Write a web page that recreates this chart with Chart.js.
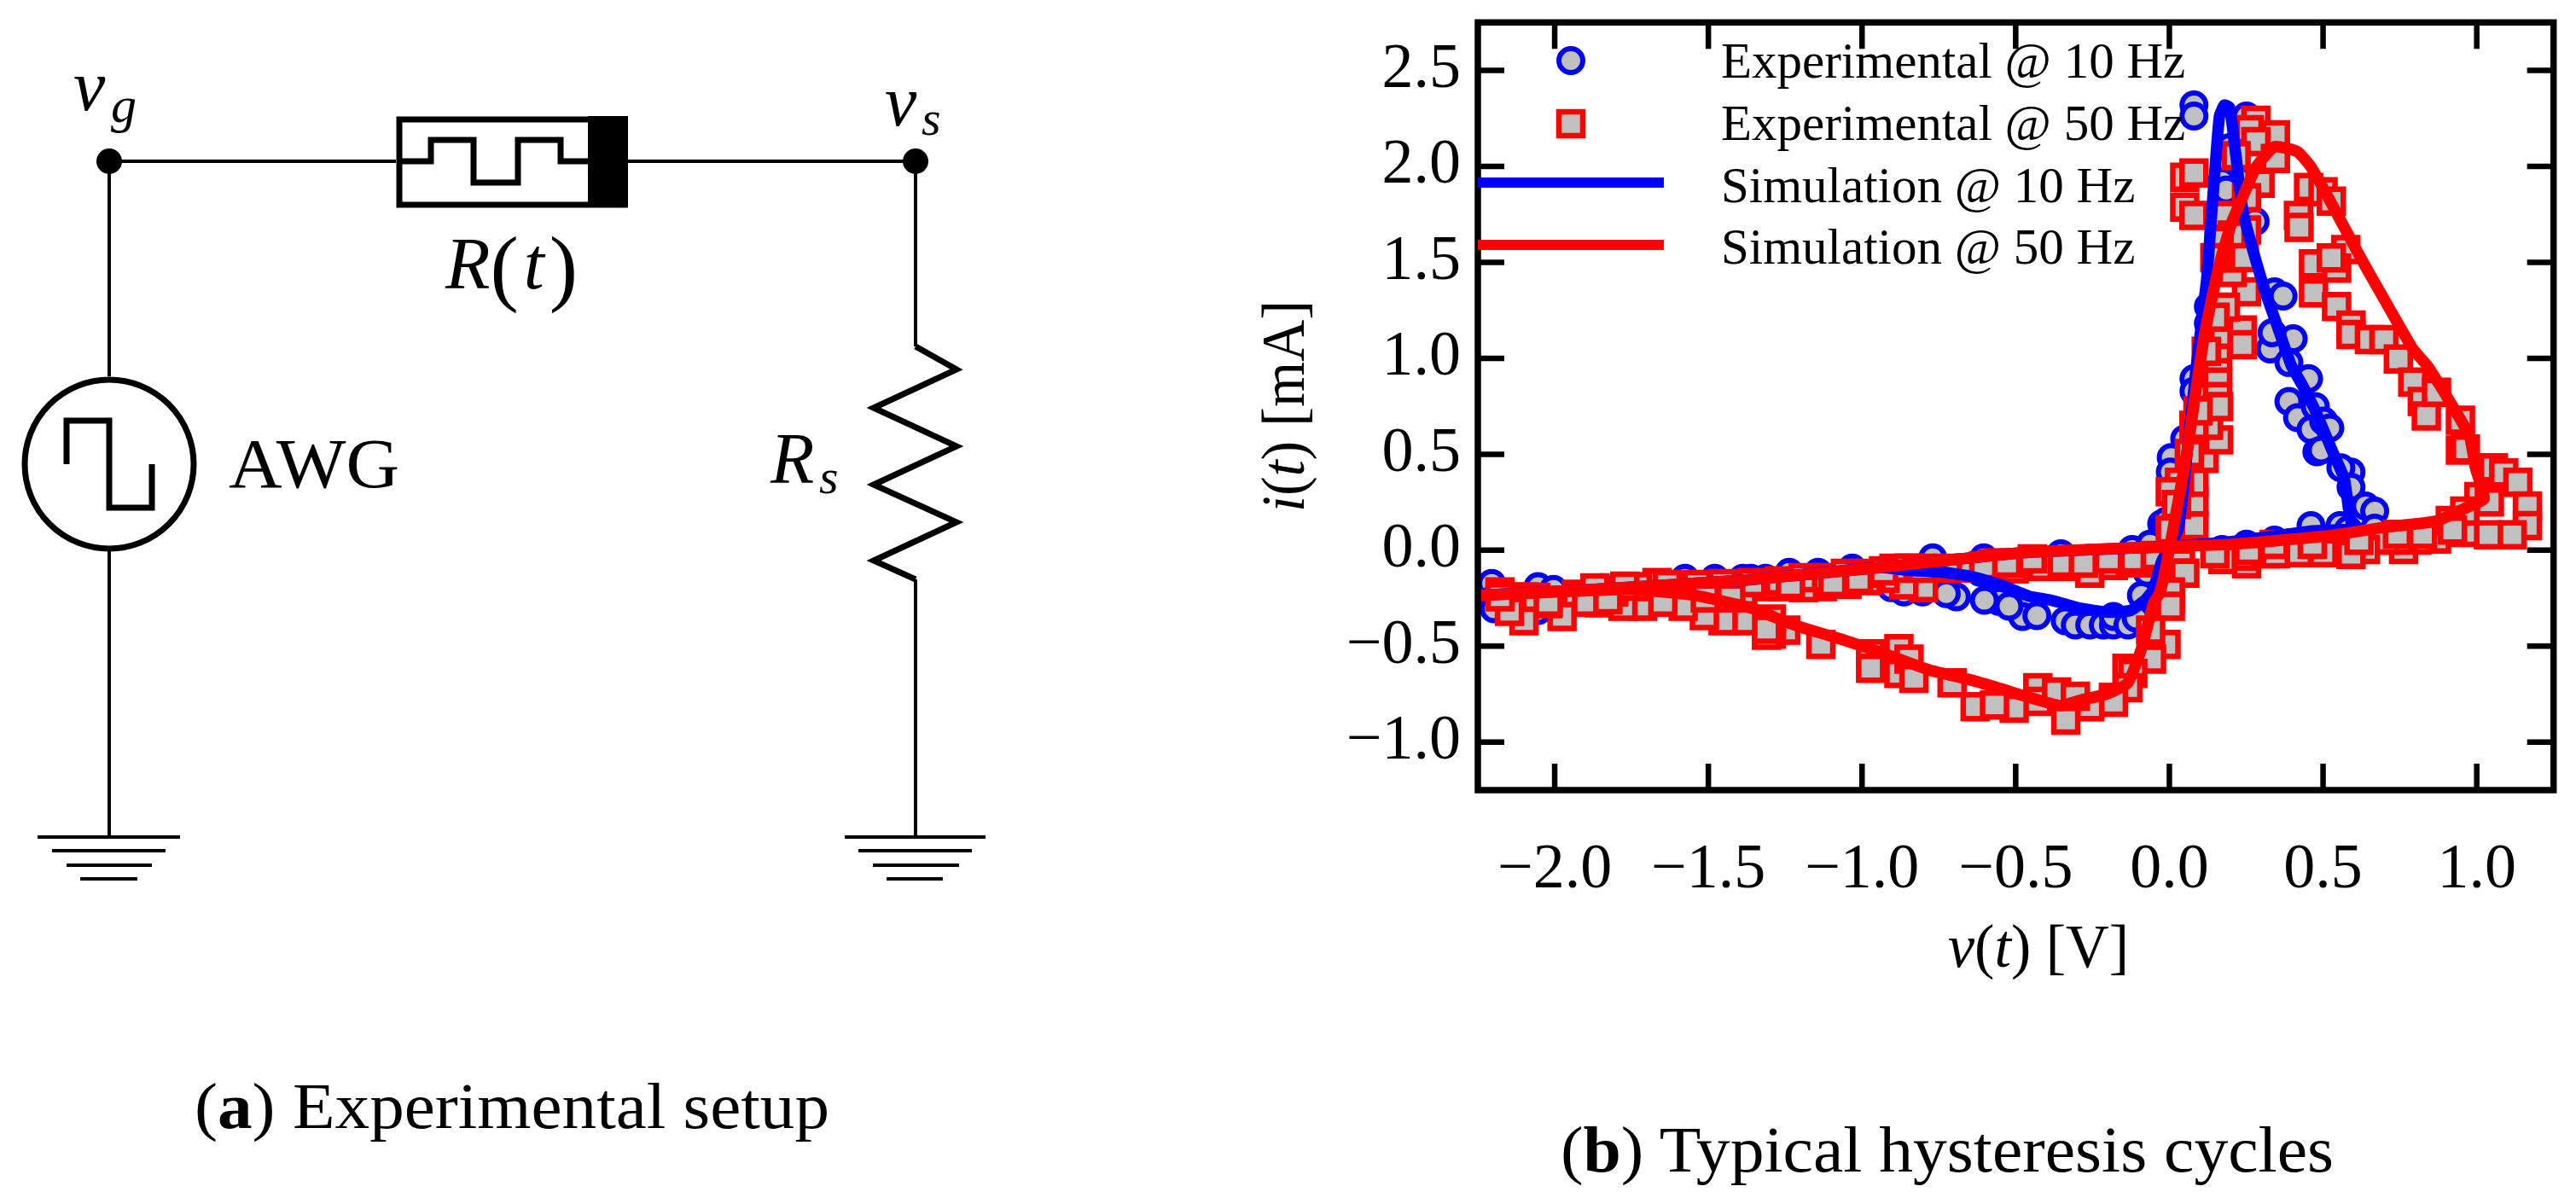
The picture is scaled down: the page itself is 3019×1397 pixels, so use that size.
<!DOCTYPE html>
<html>
<head>
<meta charset="utf-8">
<title>Experimental setup and hysteresis cycles</title>
<script src="https://cdn.jsdelivr.net/npm/chart.js@4"></script>
<style>
  html, body { margin: 0; padding: 0; background: #fff; }
  #wrap { position: relative; width: 3019px; height: 1397px; overflow: hidden; }
  #wrap canvas, #wrap svg { position: absolute; left: 0; top: 0; }
  svg text { font-family: "Liberation Serif", serif; fill: #000; }
  .wire { fill: none; stroke: #000; stroke-width: 4; }
  .thick { fill: none; stroke: #000; stroke-width: 7; }
</style>
</head>
<body>
<div id="wrap">
  <canvas id="chart" width="3019" height="1397"></canvas>
  <svg width="3019" height="1397" viewBox="0 0 3019 1397">
    <!-- wires -->
    <path class="wire" d="M128 189H464M736 189H1073M128 189V441M128 646V981M1073 189V406M1073 679V981"/>
    <circle cx="128" cy="189" r="15"/>
    <circle cx="1073" cy="189" r="15"/>
    <!-- memristor -->
    <rect class="thick" x="468" y="140" width="264" height="100"/>
    <rect x="689" y="136" width="47" height="107"/>
    <path class="thick" d="M467 189H505V164H555V214H607V164H657V189H689"/>
    <!-- source -->
    <circle class="thick" cx="128" cy="544" r="99"/>
    <path class="thick" d="M78 544V493H128V595H178V544"/>
    <!-- series resistor -->
    <path class="thick" stroke-linejoin="miter" d="M1073 406L1121 433L1024 478L1121 523L1024 568L1121 612L1024 657L1073 679"/>
    <!-- grounds -->
    <path class="wire" d="M44 981H211M61 997H194M78 1014H178M94 1030H161M990 981H1155M1006 997H1139M1023 1014H1124M1039 1030H1105"/>
    <!-- circuit labels -->
    <text x="86" y="129" font-size="84" font-style="italic">v</text>
    <text x="130" y="143" font-size="60" font-style="italic">g</text>
    <text x="1037" y="147" font-size="84" font-style="italic">v</text>
    <text x="1080" y="158" font-size="58" font-style="italic">s</text>
    <text x="522" y="338" font-size="86"><tspan font-style="italic">R</tspan><tspan font-size="100" dy="8">(</tspan><tspan font-style="italic" dx="6" dy="-8">t</tspan><tspan font-size="100" dx="6" dy="8">)</tspan></text>
    <text x="268" y="571" font-size="82" textLength="200" lengthAdjust="spacingAndGlyphs">AWG</text>
    <text x="903" y="566" font-size="84" font-style="italic">R</text>
    <text x="960" y="578" font-size="58" font-style="italic">s</text>
    <!-- axis titles -->
    <text x="2283" y="1133" font-size="72" textLength="212" lengthAdjust="spacingAndGlyphs"><tspan font-style="italic">v</tspan>(<tspan font-style="italic">t</tspan>) [V]</text>
    <text transform="translate(1528 600) rotate(-90)" font-size="72" textLength="248" lengthAdjust="spacingAndGlyphs"><tspan font-style="italic">i</tspan>(<tspan font-style="italic">t</tspan>) [mA]</text>
    <!-- captions -->
    <text x="228" y="1322" font-size="76" textLength="744" lengthAdjust="spacingAndGlyphs">(<tspan font-weight="bold">a</tspan>) Experimental setup</text>
    <text x="1829" y="1373" font-size="76" textLength="906" lengthAdjust="spacingAndGlyphs">(<tspan font-weight="bold">b</tspan>) Typical hysteresis cycles</text>
  </svg>
</div>
<script>
// tick labels
const xTicks = [-2.0, -1.5, -1.0, -0.5, 0.0, 0.5, 1.0];
const yTicks = [-1.0, -0.5, 0.0, 0.5, 1.0, 1.5, 2.0, 2.5];

const legendLabels = ["Experimental @ 10 Hz", "Experimental @ 50 Hz", "Simulation @ 10 Hz", "Simulation @ 50 Hz"];

// measured points, 10 Hz
const expV10 = [-.555,-.478,-.478,-.431,-.339,-.306,-.259,-.215,-.182,-.182,-.135,-.091,-.108,-.072,-.121,-.044,-.025,-.353,-.259,
  .080,.080,.050,.006,.003,-.011,-.063,.453,.389,.417,.461,.480,.328,.403,.334,.389,.171,.251,.342,.461,.475,.502,.522,.494,.591,.558,.591,.638,.668,.668,.555,.582,
  .080,.080,.251,.196,.224,.279,.342,.370,.171,.185,.127,.127,
  -1.237,-1.143,-1.032,-.770,-.604,-.693,-.726,-.803,-.864,-.905,-.602,-.522,-.616,
  -2.205,-2.205,-2.054,-2.054,-1.847,-1.576,-1.479,-1.388,-1.361,-1.314,-2.004,-2.197];
const expI10 = [-.266,-.292,-.345,-.341,-.367,-.390,-.390,-.390,-.390,-.345,-.390,-.235,-.354,-.115,.004,.018,.137,-.018,-.044,
  .894,.828,.580,.483,.407,.151,.031,.894,.775,.691,.629,.513,1.049,1.102,1.133,.978,.004,.031,.053,.128,.748,.673,.637,.522,.407,.429,.328,.230,.204,.115,.128,.106,
  2.320,2.262,2.262,2.098,1.934,1.713,1.346,1.324,1.921,1.877,1.270,1.182,
  -.115,-.115,-.093,-.040,-.040,-.243,-.226,-.217,-.217,-.195,-.261,-.292,-.115,
  -.173,-.261,-.190,-.314,-.195,-.146,-.146,-.146,-.146,-.146,-.204,-.305];

// measured points, 50 Hz
const expV50 = [.2815,.2595,.345,.2815,.345,.295,.05,.08,.05,.08,.453,.42,.5,.527,.422,.574,.469,.544,.527,.469,.544,.591,.591,.651,.698,.745,.792,.823,.836,.869,.947,.947,.963,1.054,1.088,1.134,1.165,1.165,1.115,1.038,.961,.869,.806,.762,.745,.701,.638,.574,.591,.486,.42,1.007,.961,.914,1.041,
  .251,.177,.237,.237,.204,.251,.251,.177,.204,.185,.182,.157,.157,.157,.157,.113,.113,.160,.127,.160,.080,.080,.080,.033,.003,.003,.080,.036,.036,.050,.003,.003,.003,-.011,-.061,-.058,-.138,-.119,-.135,-.182,-.182,-.259,-.337,-.428,-.428,-.505,-.367,-.306,-.632,-.569,-.707,-.972,-.972,-.880,-.880,-.847,-.831,-1.134,-1.248,-1.295,-1.295,-1.311,-1.311,-1.388,-1.452,-1.513,
  -.259,-.182,-.337,-.414,-.505,-.558,-.505,-.574,-.651,-.800,-.847,-.864,-.925,-.983,-1.049,-1.129,-1.190,-1.259,-1.311,-1.388,-1.452,-1.499,-1.573,-1.582,-1.667,-1.714,-1.731,-1.778,-1.808,-1.855,-1.929,-1.976,-2.023,-2.100,-2.100,-2.147,-2.178,-2.178,
  -.127,-.102,.174,.251,.251,.312,.345,.5,
  -1.869,-1.772,-1.634,-1.537,-1.454,-1.358,-1.269,-1.192,-1.115,-1.054,-.971,-.896,-.805,-.722,-.604,-.529,-.446,-.349,-.280,-.198,-.115,-.046,
  -2.062,-2.021,-1.896,-1.827,-1.648,-1.510,-1.427,-1.233,-1.095,-1.012,-.930,
  .148,.258,.341,.465,.617,.742,.824,.921,
  .162,.244,.120,.148,.093,.065,.023,.217,.148];
const expI50 = [2.240,2.191,2.165,2.129,2.041,1.912,1.943,1.965,1.788,1.744,1.890,1.744,1.868,1.819,1.682,1.567,1.492,1.470,1.523,1.341,1.270,1.173,1.124,1.098,1.098,.996,.876,.775,.699,.823,.677,.522,.527,.429,.403,.354,.230,.128,.080,.080,.093,.058,.053,.004,.053,.053,.004,.004,-.022,.004,-.013,.279,.204,.155,.252,
  1.346,1.124,1.147,1.071,1.448,1.669,1.837,1.744,1.642,1.523,1.266,1.000,.925,.876,.801,.478,.580,.575,.651,.748,.128,.252,.354,.354,.305,.106,.651,-.066,-.120,-.120,-.248,-.217,-.292,-.491,-.416,-.567,-.615,-.642,-.717,-.766,-.792,-.815,-.885,-.717,-.788,-.823,-.739,-.761,-.815,-.806,-.691,-.540,-.615,-.513,-.642,-.567,-.668,-.491,-.416,-.438,-.359,-.443,-.412,-.367,-.367,-.341,
  -.120,-.080,-.084,-.084,-.097,-.066,-.066,-.071,-.093,-.195,-.093,-.181,-.146,-.159,-.177,-.190,-.195,-.190,-.190,-.217,-.239,-.212,-.190,-.292,-.168,-.292,-.190,-.292,-.217,-.274,-.230,-.345,-.279,-.367,-.243,-.319,-.217,-.243,
  -.066,-.066,-.049,-.071,-.031,-.018,-.018,-.013,
  -.196,-.187,-.178,-.178,-.174,-.169,-.160,-.143,-.143,-.121,-.121,-.094,-.094,-.094,-.081,-.067,-.045,-.067,-.067,-.045,-.045,-.027,
  -.245,-.271,-.271,-.258,-.271,-.249,-.249,-.178,-.169,-.152,-.107,
  -.019,-.001,.030,.030,.052,.083,.083,.105,
  1.613,1.524,1.036,1.214,.726,.504,.238,2.056,1.524];

// simulated loops
const simV10 = [-2.247,-1.871,-1.408,-.941,-.85,-.734,-.643,-.549,-.458,-.384,-.293,-.201,-.127,-.080,-.052,-.025,0,.030,.088,.121,.135,.149,.163,.179,.196,.210,.224,.240,.279,.315,.351,.397,.433,.475,.530,.569,.582,.591,.46,.204,-.014,-.478,-.941,-1.408,-1.871,-2.241];
const simI10 = [-.235,-.204,-.159,-.09,-.105,-.115,-.137,-.181,-.239,-.261,-.301,-.323,-.314,-.261,-.204,-.058,.018,.120,.961,1.403,1.700,1.996,2.262,2.320,2.306,2.143,1.952,1.757,1.523,1.332,1.169,.961,.859,.726,.518,.372,.226,.115,.10,.045,.018,-.013,-.09,-.159,-.204,-.235];
const simV50 = [-2.247,-1.755,-1.546,-1.361,-1.250,-1.195,-1.057,-.919,-.781,-.643,-.522,-.458,-.356,-.284,-.201,-.135,-.091,-.052,-.030,.003,.058,.086,.113,.141,.168,.204,.240,.282,.342,.417,.461,.508,.563,.627,.701,.792,.839,.914,.977,.996,1.024,.977,.867,.701,.516,.204,-.014,-.478,-.941,-1.408,-1.871,-2.241];
const simI50 = [-.235,-.204,-.235,-.301,-.372,-.403,-.469,-.544,-.624,-.677,-.735,-.766,-.810,-.779,-.748,-.691,-.513,-.279,-.217,.031,.518,.828,1.111,1.332,1.523,1.713,1.846,1.996,2.103,2.076,1.996,1.864,1.700,1.510,1.301,1.049,.961,.770,.593,.429,.270,.230,.151,.120,.075,.031,.018,-.013,-.09,-.159,-.204,-.235];

const BLUE = "#0000ff", RED = "#ff0000", GREY = "#c0c0c0";
const SERIF = "'Liberation Serif', serif";

function pairs(xs, ys) {
  return xs.map((x, i) => ({ x: x, y: ys[i] }));
}

function tickLabel(value) {
  const text = Math.abs(value).toFixed(1);
  return value < 0 ? "\u2212" + text : text;
}

// box round the plot, with ticks pointing inward on all four sides
const frameAndTicks = {
  id: "frameAndTicks",
  afterDatasetsDraw(chart) {
    const ctx = chart.ctx;
    const a = chart.chartArea;
    const tick = 31;
    ctx.save();
    ctx.strokeStyle = "#000";
    ctx.lineWidth = 6.5;
    ctx.beginPath();
    chart.scales.x.ticks.forEach((t, i) => {
      const px = chart.scales.x.getPixelForTick(i);
      ctx.moveTo(px, a.top); ctx.lineTo(px, a.top + tick);
      ctx.moveTo(px, a.bottom); ctx.lineTo(px, a.bottom - tick);
    });
    chart.scales.y.ticks.forEach((t, i) => {
      const py = chart.scales.y.getPixelForTick(i);
      ctx.moveTo(a.left, py); ctx.lineTo(a.left + tick, py);
      ctx.moveTo(a.right, py); ctx.lineTo(a.right - tick, py);
    });
    ctx.stroke();
    ctx.lineWidth = 7.5;
    ctx.strokeRect(a.left, a.top, a.right - a.left, a.bottom - a.top);
    ctx.restore();
  }
};

// legend rows sit inside the plot, the line handles start at the left frame
const insideLegend = {
  id: "insideLegend",
  afterDraw(chart) {
    const ctx = chart.ctx;
    const rows = [
      { base: 91, mark: 71 },
      { base: 164, mark: 145 },
      { base: 237, mark: 214 },
      { base: 309, mark: 287 }
    ];
    ctx.save();
    ctx.font = "59px " + SERIF;
    ctx.textAlign = "left";
    ctx.textBaseline = "alphabetic";
    legendLabels.forEach((label, i) => {
      const ds = chart.data.datasets[i];
      ctx.fillStyle = "#000";
      ctx.fillText(label, 2017, rows[i].base);
      if (ds.showLine) {
        ctx.fillStyle = ds.borderColor;
        ctx.fillRect(1732, rows[i].mark - 6, 218, 12);
      } else {
        ctx.fillStyle = ds.pointBackgroundColor;
        ctx.strokeStyle = ds.pointBorderColor;
        ctx.lineWidth = ds.pointBorderWidth;
        Chart.helpers.drawPoint(ctx, {
          pointStyle: ds.pointStyle, radius: ds.pointRadius, rotation: 0, borderWidth: ds.pointBorderWidth
        }, 1841, rows[i].mark);
      }
    });
    ctx.restore();
  }
};

new Chart(document.getElementById("chart"), {
  type: "scatter",
  data: {
    datasets: [
      {
        label: legendLabels[0], data: pairs(expV10, expI10), order: 3, showLine: false,
        pointStyle: "circle", pointRadius: 14, pointBorderWidth: 6,
        pointBackgroundColor: GREY, pointBorderColor: BLUE
      },
      {
        label: legendLabels[1], data: pairs(expV50, expI50), order: 2, showLine: false,
        pointStyle: "rect", pointRadius: 19.8, pointBorderWidth: 6.5,
        pointBackgroundColor: GREY, pointBorderColor: RED
      },
      {
        label: legendLabels[2], data: pairs(simV10, simI10), order: 1, showLine: true,
        pointRadius: 0, borderColor: BLUE, borderWidth: 13.5, tension: 0.15, borderJoinStyle: "round"
      },
      {
        label: legendLabels[3], data: pairs(simV50, simI50), order: 0, showLine: true,
        pointRadius: 0, borderColor: RED, borderWidth: 13.5, tension: 0.15, borderJoinStyle: "round"
      }
    ]
  },
  options: {
    responsive: false,
    animation: false,
    devicePixelRatio: 1,
    layout: { padding: { left: 1532, right: 20, top: 23, bottom: 321 } },
    plugins: { legend: { display: false }, tooltip: { enabled: false }, title: { display: false } },
    scales: {
      x: {
        type: "linear",
        min: -2.25,
        max: 1.25,
        afterBuildTicks: scale => { scale.ticks = xTicks.map(v => ({ value: v })); },
        afterFit: scale => { scale.height = 150; scale.paddingLeft = 0; scale.paddingRight = 0; },
        grid: { display: false, drawTicks: false },
        border: { display: false },
        ticks: {
          callback: tickLabel, autoSkip: false, maxRotation: 0, padding: 50,
          color: "#000", font: { family: SERIF, size: 74 }
        }
      },
      y: {
        type: "linear",
        min: -1.25,
        max: 2.75,
        afterBuildTicks: scale => { scale.ticks = yTicks.map(v => ({ value: v })); },
        afterFit: scale => { scale.width = 200; scale.paddingTop = 0; scale.paddingBottom = 0; },
        grid: { display: false, drawTicks: false },
        border: { display: false },
        ticks: {
          callback: tickLabel, autoSkip: false, padding: 20,
          color: "#000", font: { family: SERIF, size: 74 }
        }
      }
    }
  },
  plugins: [frameAndTicks, insideLegend]
});
</script>
</body>
</html>
